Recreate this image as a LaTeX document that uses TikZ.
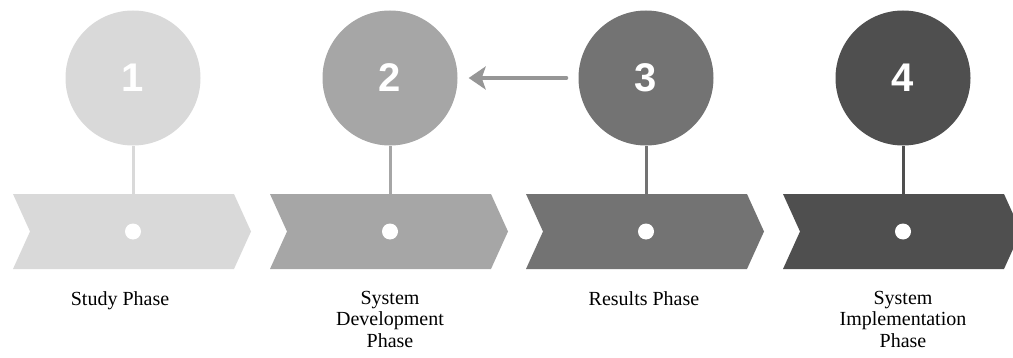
\documentclass[tikz,border=0pt]{standalone}
\usepackage{fontspec}
\setmainfont{Liberation Serif}
\newfontfamily\numfont{Liberation Sans}
\usepackage{tikz}
\usetikzlibrary{arrows.meta}
\definecolor{phaseA}{HTML}{D9D9D9}
\definecolor{phaseB}{HTML}{A6A6A6}
\definecolor{phaseC}{HTML}{737373}
\definecolor{phaseD}{HTML}{4F4F4F}
\definecolor{link}{HTML}{969696}
\tikzset{
  disc/.style={circle, minimum size=135pt, inner sep=0pt, text=white,
    font=\numfont\bfseries\fontsize{40}{40}\selectfont},
  stem/.style={line width=3pt},
  dot/.style={circle, fill=white, minimum size=16pt, inner sep=0pt},
  lab/.style={anchor=north, inner sep=0pt, align=center, text=black,
    font=\fontsize{20}{21.5}\selectfont},
  back/.style={draw=link, line width=4pt, line cap=round,
    -{Stealth[length=17pt,width=23pt,inset=4pt]}},
}
\begin{document}
\begin{tikzpicture}[x=1pt,y=1pt]
  \useasboundingbox (0,0) rectangle (1013,357);
  % chevrons
  \fill[phaseA] (13,163)--(234,163)--(251,125.5)--(234,88)--(13,88)--(30,125.5)--cycle;
  \fill[phaseB] (270,163)--(491,163)--(508,125.5)--(491,88)--(270,88)--(287,125.5)--cycle;
  \fill[phaseC] (526,163)--(747,163)--(764,125.5)--(747,88)--(526,88)--(543,125.5)--cycle;
  \fill[phaseD] (783,163)--(1004,163)--(1021,125.5)--(1004,88)--(783,88)--(800,125.5)--cycle;
  % circles and stems
  \node[disc,fill=phaseA] (c1) at (133,279) {1};
  \node[disc,fill=phaseB] (c2) at (390,279) {2};
  \node[disc,fill=phaseC] (c3) at (646,279) {3};
  \node[disc,fill=phaseD] (c4) at (903,279) {4};
  \coordinate (t1) at (133,163);
  \coordinate (t2) at (390,163);
  \coordinate (t3) at (646,163);
  \coordinate (t4) at (903,163);
  \draw[stem,phaseA] (c1) -- (t1);
  \draw[stem,phaseB] (c2) -- (t2);
  \draw[stem,phaseC] (c3) -- (t3);
  \draw[stem,phaseD] (c4) -- (t4);
  \node[dot] (d1) at (133,125.5) {};
  \node[dot] (d2) at (390,125.5) {};
  \node[dot] (d3) at (646,125.5) {};
  \node[dot] (d4) at (903,125.5) {};
  % arrow from 3 back to 2
  \draw[back,shorten <=12pt,shorten >=11pt] (c3) -- (c2);
  % labels
  \node[lab] (l1) at (120,66) {Study Phase};
  \node[lab] (l2) at (390,66) {System\\Development\\Phase};
  \node[lab] (l3) at (644,66) {Results Phase};
  \node[lab] (l4) at (903,66) {System\\Implementation\\Phase};
\end{tikzpicture}
\end{document}
